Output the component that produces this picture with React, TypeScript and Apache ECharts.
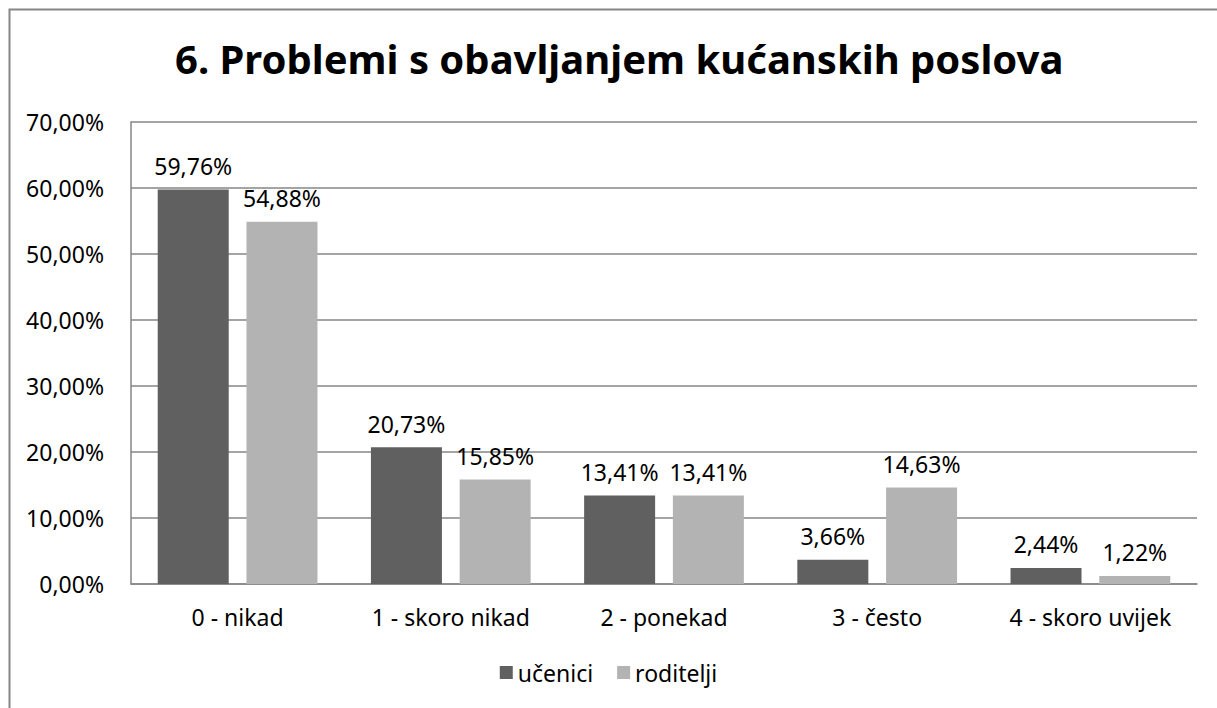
import React, { useEffect, useRef } from "react";
import * as echarts from "echarts";

const categories = ["0 - nikad", "1 - skoro nikad", "2 - ponekad", "3 - često", "4 - skoro uvijek"];
const ucenici = [59.76, 20.73, 13.41, 3.66, 2.44];
const roditelji = [54.88, 15.85, 13.41, 14.63, 1.22];
const seriesNames = ["učenici", "roditelji"];
const titleText = "6. Problemi s obavljanjem kućanskih poslova";

const FONT = "'Noto Sans', sans-serif";
const FS = 23;
const fmt = (v: number) => v.toFixed(2).replace(".", ",") + "%";

export default function App() {
  const ref = useRef<HTMLDivElement>(null);
  useEffect(() => {
    if (!ref.current) return;
    const chart = echarts.init(ref.current, undefined, { renderer: "svg" });
    const label = {
      show: true,
      position: "top" as const,
      distance: 12,
      fontFamily: FONT,
      fontSize: FS,
      color: "#000",
      formatter: (p: any) => fmt(p.value),
    };
    chart.setOption({
      animation: false,
      backgroundColor: "#fff",
      textStyle: { fontFamily: FONT },
      title: {
        text: titleText,
        left: 170,
        top: 33,
        textStyle: { fontFamily: FONT, fontWeight: "bold", fontSize: 40, color: "#000" },
      },
      graphic: [
        {
          type: "rect",
          shape: { x: 9.5, y: 9.5, width: 1230, height: 730 },
          style: { fill: "none", stroke: "#868686", lineWidth: 2 },
          silent: true,
        },
      ],
      grid: { left: 131, right: 20, top: 122, bottom: 124 },
      legend: {
        data: seriesNames,
        left: "center",
        top: 656,
        icon: "rect",
        itemWidth: 13,
        itemHeight: 13,
        itemGap: 24,
        textStyle: { fontFamily: FONT, fontSize: FS, color: "#000" },
      },
      xAxis: {
        type: "category",
        data: categories,
        axisLine: { show: true, lineStyle: { color: "#868686", width: 1.5 } },
        axisTick: { show: false },
        axisLabel: { fontFamily: FONT, fontSize: FS, color: "#000", margin: 21 },
      },
      yAxis: {
        type: "value",
        min: 0,
        max: 70,
        interval: 10,
        axisLine: { show: true, lineStyle: { color: "#868686", width: 1.5 } },
        axisTick: { show: false },
        splitLine: { lineStyle: { color: "#868686", width: 1.5 } },
        axisLabel: {
          fontFamily: FONT,
          fontSize: FS,
          color: "#000",
          margin: 27,
          formatter: (v: number) => fmt(v),
        },
      },
      series: [
        {
          name: seriesNames[0],
          type: "bar",
          data: ucenici,
          barWidth: 71,
          barGap: "25%",
          itemStyle: { color: "#606060" },
          label,
        },
        {
          name: seriesNames[1],
          type: "bar",
          data: roditelji,
          barWidth: 71,
          barGap: "25%",
          itemStyle: { color: "#b3b3b3" },
          label,
        },
      ],
    });
    return () => chart.dispose();
  }, []);
  return (
    <div
      ref={ref}
      style={{ position: "fixed", left: 0, top: 0, width: 1217, height: 708 }}
    />
  );
}
